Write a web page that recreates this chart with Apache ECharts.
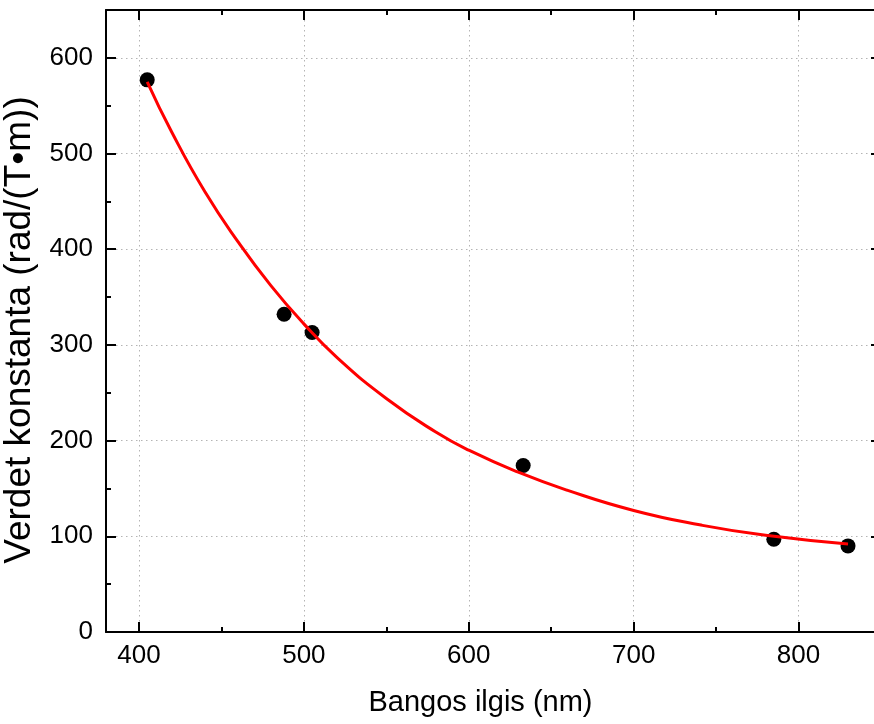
<!DOCTYPE html>
<html>
<head>
<meta charset="utf-8">
<script src="https://cdn.jsdelivr.net/npm/echarts@6/dist/echarts.min.js"></script>
<style>
  html, body { margin: 0; padding: 0; background: #fff; }
  #chart { width: 874px; height: 724px; }
</style>
</head>
<body>
<div id="chart"></div>
<script>
// measured points
var waveX = [405, 488, 505, 633, 785, 830];
var verdetY = [577, 332, 313, 174, 97, 90];
// fitted curve
var fitX = [405, 420, 440, 460, 480, 500, 520, 550, 580, 600, 630, 660, 700, 740, 780, 830];
var fitY = [575, 522, 460, 408, 362, 322, 287, 244, 209, 190, 167, 148, 127, 112, 101, 92];

var font = 'Liberation Sans, Arial, sans-serif';

function pairs(xs, ys) {
    return xs.map(function (x, i) { return [x, ys[i]]; });
}

var baseAxis = {
    axisLine: { show: true, onZero: false, lineStyle: { color: '#000', width: 2 } },
    axisTick: { show: true, inside: true, length: 10, lineStyle: { color: '#000', width: 2 } },
    minorTick: { show: true, splitNumber: 2, length: 5, lineStyle: { color: '#000', width: 2 } },
    splitLine: { show: false },
    axisLabel: { show: false }
};
var gridLine = { show: true, lineStyle: { color: '#b4b4b4', type: [1.5, 3.5], width: 1 } };

var option = {
    animation: false,
    grid: { left: 106, top: 10, right: -7, bottom: 92, outerBoundsMode: 'none' },
    xAxis: [
        Object.assign({}, baseAxis, {
            type: 'value', position: 'bottom',
            min: 380, max: 850, minInterval: 100, maxInterval: 100,
            name: 'Bangos ilgis (nm)', nameLocation: 'middle', nameGap: 56,
            nameTextStyle: { fontFamily: font, fontSize: 29, color: '#000', padding: [0, 26, 0, 0] },
            axisLabel: { show: true, fontFamily: font, fontSize: 26, color: '#000', margin: 11,
                showMinLabel: false, showMaxLabel: false },
            splitLine: gridLine
        }),
        Object.assign({}, baseAxis, {
            type: 'value', position: 'top',
            min: 380, max: 850, minInterval: 100, maxInterval: 100
        })
    ],
    yAxis: [
        Object.assign({}, baseAxis, {
            type: 'value', position: 'left',
            min: 0, max: 650, interval: 100,
            name: 'Verdet konstanta (rad/(T•m))', nameLocation: 'middle', nameGap: 56,
            nameTextStyle: { fontFamily: font, fontSize: 37, color: '#000', padding: [0, 18, 0, 0] },
            axisLabel: { show: true, fontFamily: font, fontSize: 26, color: '#000', margin: 13,
                showMaxLabel: false },
            splitLine: gridLine
        }),
        Object.assign({}, baseAxis, {
            type: 'value', position: 'right',
            min: 0, max: 650, interval: 100
        })
    ],
    series: [
        {
            type: 'scatter',
            data: pairs(waveX, verdetY),
            symbol: 'circle',
            symbolSize: 15,
            itemStyle: { color: '#000', opacity: 1 },
            z: 2
        },
        {
            type: 'line',
            data: pairs(fitX, fitY),
            smooth: true,
            showSymbol: false,
            lineStyle: { color: '#ff0000', width: 3 },
            z: 3
        }
    ]
};

var chart = echarts.init(document.getElementById('chart'));
chart.setOption(option);
</script>
</body>
</html>
